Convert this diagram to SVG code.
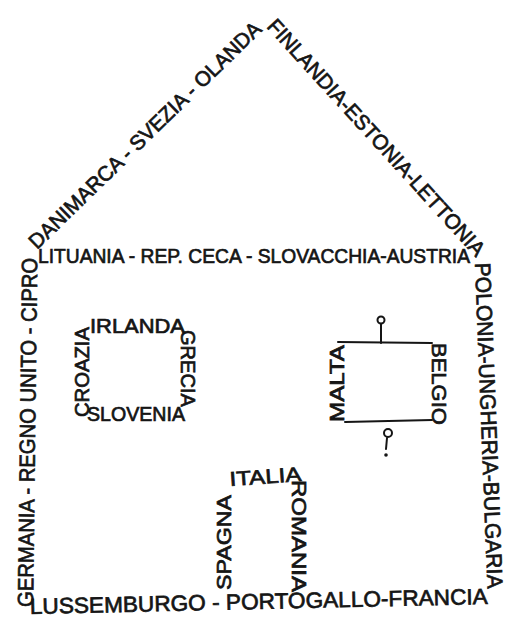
<svg xmlns="http://www.w3.org/2000/svg" width="508" height="619" viewBox="0 0 508 619">
<style>
.t{font-family:"Liberation Sans","DejaVu Sans",sans-serif;fill:#151515;stroke:#151515;stroke-width:0.7;}
.big{font-size:22px;}
.mid{font-size:21px;}
.sm{font-size:20px;}
.ln{fill:none;stroke:#151515;stroke-width:2;stroke-linecap:round;}
</style>
<rect width="508" height="619" fill="#ffffff"/>
<g id="house">
<text class="t mid" transform="translate(37,250) rotate(-44.2)" textLength="315" lengthAdjust="spacingAndGlyphs">DANIMARCA - SVEZIA - OLANDA</text>
<text class="t mid" transform="translate(266,27) rotate(47.7)" textLength="312" lengthAdjust="spacingAndGlyphs">FINLANDIA-ESTONIA-LETTONIA</text>
<text class="t mid" x="38" y="263" textLength="432" lengthAdjust="spacingAndGlyphs">LITUANIA - REP. CECA - SLOVACCHIA-AUSTRIA</text>
<text class="t big" transform="translate(33,607) rotate(-89.3)" textLength="349" lengthAdjust="spacingAndGlyphs">GERMANIA - REGNO UNITO - CIPRO</text>
<text class="t big" transform="translate(475,263) rotate(87.8)" textLength="326" lengthAdjust="spacingAndGlyphs">POLONIA-UNGHERIA-BULGARIA</text>
<text class="t big" transform="translate(30,614) rotate(-1.25)" textLength="458" lengthAdjust="spacingAndGlyphs">LUSSEMBURGO - PORTOGALLO-FRANCIA</text>
</g>
<g id="window-left">
<text class="t sm" x="90" y="333" textLength="95" lengthAdjust="spacingAndGlyphs">IRLANDA</text>
<text class="t sm" transform="translate(89,417) rotate(-90)" textLength="90" lengthAdjust="spacingAndGlyphs">CROAZIA</text>
<text class="t sm" transform="translate(181,330) rotate(90)" textLength="77" lengthAdjust="spacingAndGlyphs">GRECIA</text>
<text class="t sm" x="87" y="421" textLength="98" lengthAdjust="spacingAndGlyphs">SLOVENIA</text>
</g>
<g id="picture-right">
<path class="ln" d="M338,342 L432,343 M345,422 L432,420"/>
<circle class="ln" cx="381" cy="320" r="3.5" stroke-width="1.6"/>
<path class="ln" d="M381,324 L381,343"/>
<circle class="ln" cx="388" cy="433" r="4" stroke-width="1.6"/>
<path class="ln" d="M387,438 L386,449"/>
<circle cx="386" cy="455" r="1.8" fill="#151515"/>
<text class="t sm" transform="translate(344,422) rotate(-90)" textLength="77" lengthAdjust="spacingAndGlyphs">MALTA</text>
<text class="t sm" transform="translate(432,343) rotate(90)" textLength="82" lengthAdjust="spacingAndGlyphs">BELGIO</text>
</g>
<g id="door">
<text class="t sm" transform="translate(230,486) rotate(-4)" textLength="72" lengthAdjust="spacingAndGlyphs">ITALIA</text>
<text class="t sm" transform="translate(231,590) rotate(-90)" textLength="95" lengthAdjust="spacingAndGlyphs">SPAGNA</text>
<text class="t sm" transform="translate(292,480) rotate(90)" textLength="112" lengthAdjust="spacingAndGlyphs">ROMANIA</text>
</g>
</svg>
